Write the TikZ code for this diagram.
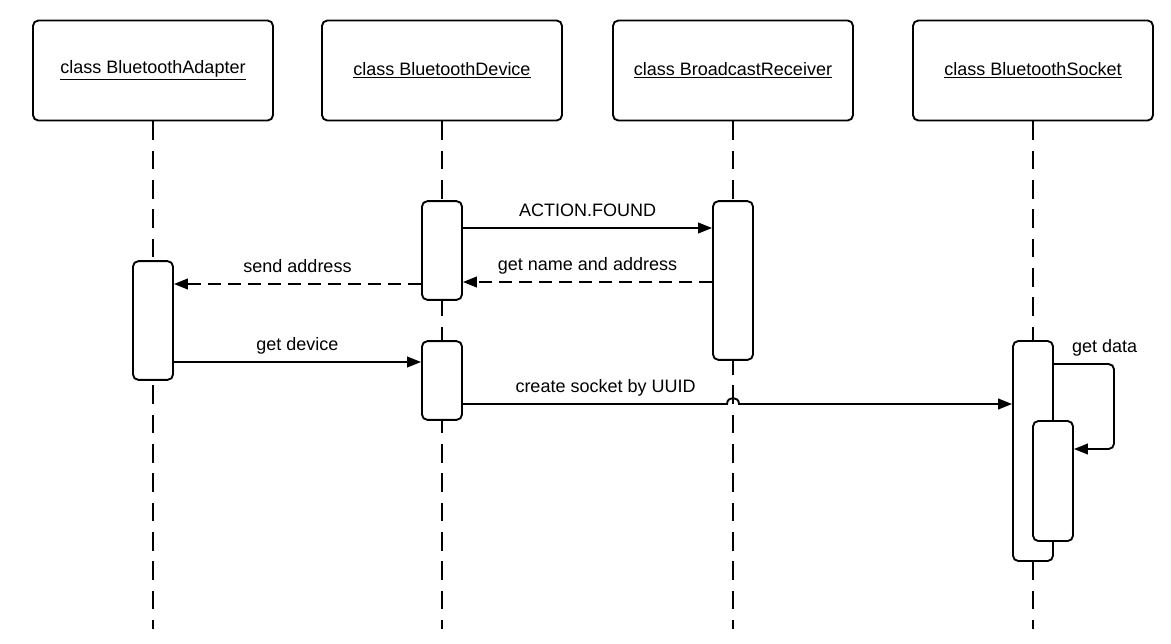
\documentclass[tikz,border=0pt]{standalone}
\usepackage{fontspec}
\setmainfont{Liberation Sans}
\usetikzlibrary{calc, arrows.meta}

\tikzset{
  classbox/.style={draw, line width=1.4pt, rounded corners=4pt, minimum width=180pt, minimum height=75pt, fill=white},
  actbar/.style={draw, line width=1.4pt, rounded corners=4pt, minimum width=30pt, fill=white},
  lifeline/.style={line width=1.4pt, dash pattern=on 14pt off 8pt},
  msg/.style={line width=1.4pt, -{Triangle[length=10.5pt, width=8pt]}},
  reply/.style={msg, dash pattern=on 10pt off 5pt},
  msglabel/.style={anchor=base, yshift=8.5pt, inner sep=0pt},
}

\begin{document}
\begin{tikzpicture}[x=0.75pt, y=-0.75pt, font=\fontsize{13.5}{16}\selectfont]
      \useasboundingbox (0,0) rectangle (1171,643);

      % class heads
      \node[classbox] (hadp) at ( 153, 70.5) {\underline{class BluetoothAdapter}};
      \node[classbox] (hdev) at ( 442, 70.5) {\underline{class BluetoothDevice}};
      \node[classbox] (hrcv) at ( 733, 70.5) {\underline{class BroadcastReceiver}};
      \node[classbox] (hsck) at (1033, 70.5) {\underline{class BluetoothSocket}};

      % message levels
      \coordinate (ybot)   at (0,629);
      \coordinate (yfound) at (0,228);
      \coordinate (yname)  at (0,282);
      \coordinate (ysend)  at (0,284);
      \coordinate (ydev)   at (0,362);
      \coordinate (ysock)  at (0,404);

      % lifelines
      \draw[lifeline] (hadp.south) -- (hadp.south |- ybot);
      \draw[lifeline] (hdev.south) -- (hdev.south |- ybot);
      \draw[lifeline] (hrcv.south) -- (hrcv.south |- ybot);
      \draw[lifeline] (hsck.south) -- (hsck.south |- ybot);

      % activations
      \node[actbar, minimum height= 89pt] (adpA) at ( 153, 320.5) {};
      \node[actbar, minimum height= 74pt] (devA) at ( 442, 250.5) {};
      \node[actbar, minimum height= 59pt] (devB) at ( 442, 380.5) {};
      \node[actbar, minimum height=119pt] (rcvA) at ( 733, 280.5) {};
      \node[actbar, minimum height=165pt] (sckA) at (1033, 451  ) {};
      \node[actbar, minimum height= 90pt] (sckB) at (1053, 481  ) {};

      % messages
      \draw[msg  ] (devA.east |- yfound) -- (rcvA.west |- yfound) node [midway, msglabel] {ACTION.FOUND};
      \draw[reply] (rcvA.west |- yname)  -- (devA.east |- yname)  node [midway, msglabel] {get name and address};
      \draw[reply] (devA.west |- ysend)  -- (adpA.east |- ysend)  node [midway, msglabel] {send address};
      \draw[msg  ] (adpA.east |- ydev)   -- (devB.west |- ydev)   node [midway, msglabel] {get device};

      \coordinate (jmp) at (rcvA.south |- ysock);
      \draw[msg] (devB.east |- ysock) -- ($(jmp)+(-6,0)$) node [pos=0.54, msglabel] {create socket by UUID}
        .. controls ($(jmp)+(-6,-8)$) and ($(jmp)+(6,-8)$) .. ($(jmp)+(6,0)$) -- (sckA.west |- ysock);

      % self call
      \coordinate (loop)    at (1114,364);
      \coordinate (loopend) at (1114,449);
      \draw[msg, rounded corners=4pt] (sckA.east |- loop) -- (loop) node [msglabel, xshift=-7pt] {get data}
        -- (loopend) -- (sckB.east |- loopend);
    \end{tikzpicture}
\end{document}
